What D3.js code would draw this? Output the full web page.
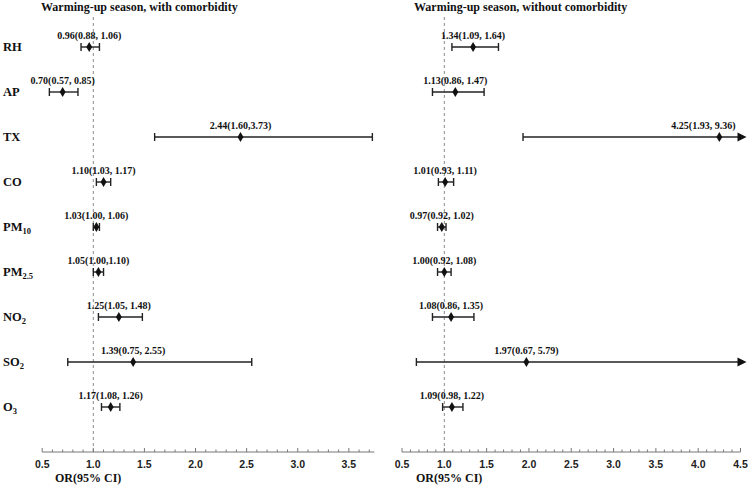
<!DOCTYPE html>
<html>
<head>
<meta charset="utf-8">
<script src="https://cdn.jsdelivr.net/npm/d3@7"></script>
<style>
  html, body { margin: 0; padding: 0; background: #fff; }
  svg { display: block; }
</style>
</head>
<body>
<svg id="chart" width="750" height="488"></svg>
<script>
// ---- data ----
const categories = ["RH", "AP", "TX", "CO", "PM10", "PM2.5", "NO2", "SO2", "O3"];

const orWith = [0.96, 0.70, 2.44, 1.10, 1.03, 1.05, 1.25, 1.39, 1.17];
const loWith = [0.88, 0.57, 1.60, 1.03, 1.00, 1.00, 1.05, 0.75, 1.08];
const hiWith = [1.06, 0.85, 3.73, 1.17, 1.06, 1.10, 1.48, 2.55, 1.26];
const labelsWith = ["0.96(0.88, 1.06)", "0.70(0.57, 0.85)", "2.44(1.60,3.73)", "1.10(1.03, 1.17)",
  "1.03(1.00, 1.06)", "1.05(1.00,1.10)", "1.25(1.05, 1.48)", "1.39(0.75, 2.55)", "1.17(1.08, 1.26)"];

const orWithout = [1.34, 1.13, 4.25, 1.01, 0.97, 1.00, 1.08, 1.97, 1.09];
const loWithout = [1.09, 0.86, 1.93, 0.93, 0.92, 0.92, 0.86, 0.67, 0.98];
const hiWithout = [1.64, 1.47, 9.36, 1.11, 1.02, 1.08, 1.35, 5.79, 1.22];
const labelsWithout = ["1.34(1.09, 1.64)", "1.13(0.86, 1.47)", "4.25(1.93, 9.36)", "1.01(0.93, 1.11)",
  "0.97(0.92, 1.02)", "1.00(0.92, 1.08)", "1.08(0.86, 1.35)", "1.97(0.67, 5.79)", "1.09(0.98, 1.22)"];

const ticksLeft = [0.5, 1.0, 1.5, 2.0, 2.5, 3.0, 3.5];
const ticksRight = [0.5, 1.0, 1.5, 2.0, 2.5, 3.0, 3.5, 4.0, 4.5];
const titles = ["Warming-up season, with comorbidity", "Warming-up season, without comorbidity"];
const axisTitle = "OR(95% CI)";

// ---- layout ----
const svg = d3.select("#chart");
const serif = "'Liberation Serif', 'Times New Roman', serif";
const sans = "'Liberation Sans', Arial, sans-serif";

const y = d3.scaleLinear().domain([-1, categories.length]).range([2, 452]);
const axisY = y(categories.length);

const panels = [
  { or: orWith, lo: loWith, hi: hiWith, labels: labelsWith, domain: [0.5, 3.75], range: [42.2, 374.4],
    ticks: ticksLeft, title: titles[0], titleX: 41, axisTitleX: 55 },
  { or: orWithout, lo: loWithout, hi: hiWithout, labels: labelsWithout, domain: [0.5, 4.5], range: [402, 740.5],
    ticks: ticksRight, title: titles[1], titleX: 414, axisTitleX: 416 }
];

// row labels
const rowLab = svg.append("g");
categories.forEach((c, i) => {
  const m = c.match(/^([A-Z]+)([0-9.]*)$/);
  const t = rowLab.append("text")
    .attr("x", 3).attr("y", y(i) + 4)
    .attr("font-family", serif).attr("font-weight", "bold").attr("font-size", 12.5)
    .attr("fill", "#111");
  t.append("tspan").text(m[1]);
  if (m[2]) {
    t.append("tspan").attr("font-size", 8.5).attr("dy", 3).text(m[2]);
  }
});

panels.forEach(p => {
  const x = d3.scaleLinear().domain(p.domain).range(p.range);
  const g = svg.append("g");
  const xmax = p.domain[1];

  // title
  g.append("text").attr("x", p.titleX).attr("y", 11)
    .attr("font-family", serif).attr("font-weight", "bold").attr("font-size", 12)
    .attr("fill", "#111").text(p.title);

  // reference dashed line
  g.append("line")
    .attr("x1", x(1)).attr("x2", x(1))
    .attr("y1", 17).attr("y2", axisY)
    .attr("stroke", "#8a8a8a").attr("stroke-width", 1).attr("stroke-dasharray", "3,3");

  // axis
  const minor = d3.range(p.domain[0], xmax + 1e-9, 0.1).map(v => Math.round(v * 10) / 10);
  g.append("line").attr("x1", x(p.domain[0])).attr("x2", x(xmax))
    .attr("y1", axisY).attr("y2", axisY).attr("stroke", "#777").attr("stroke-width", 1);
  g.selectAll(".minor").data(minor).join("line")
    .attr("x1", d => x(d)).attr("x2", d => x(d))
    .attr("y1", axisY).attr("y2", d => ticksRight.includes(d) ? axisY - 4 : axisY - 2.5)
    .attr("stroke", "#777").attr("stroke-width", 1);
  g.selectAll(".tl").data(p.ticks).join("text")
    .attr("x", d => x(d)).attr("y", axisY + 15.5)
    .attr("text-anchor", "middle")
    .attr("font-family", sans).attr("font-weight", "bold").attr("font-size", 10.5)
    .attr("fill", "#222")
    .text(d => d.toFixed(1));

  g.append("text").attr("x", p.axisTitleX).attr("y", axisY + 30)
    .attr("font-family", serif).attr("font-weight", "bold").attr("font-size", 12)
    .attr("fill", "#111").text(axisTitle);

  // error bars
  categories.forEach((c, i) => {
    const yy = y(i);
    const lo = p.lo[i], hi = p.hi[i];
    const clipped = hi > xmax;
    const x1 = x(lo), x2 = clipped ? x(xmax) - 2 : x(hi);
    g.append("line").attr("x1", x1).attr("x2", x2).attr("y1", yy).attr("y2", yy)
      .attr("stroke", "#222").attr("stroke-width", 1.4);
    g.append("line").attr("x1", x1).attr("x2", x1).attr("y1", yy - 4).attr("y2", yy + 4)
      .attr("stroke", "#222").attr("stroke-width", 1.4);
    if (clipped) {
      const tx = x(xmax);
      g.append("path")
        .attr("d", `M${tx - 3},${yy - 4.5}L${tx + 6},${yy}L${tx - 3},${yy + 4.5}Z`)
        .attr("fill", "#111");
    } else {
      g.append("line").attr("x1", x2).attr("x2", x2).attr("y1", yy - 4).attr("y2", yy + 4)
        .attr("stroke", "#222").attr("stroke-width", 1.4);
    }
    g.append("path")
      .attr("d", d3.symbol().type(d3.symbolDiamond).size(30)())
      .attr("transform", `translate(${x(p.or[i])},${yy})`)
      .attr("fill", "#111");

    const lab = g.append("text")
      .attr("x", x(p.or[i])).attr("y", yy - 8)
      .attr("text-anchor", "middle")
      .attr("font-family", serif).attr("font-weight", "bold").attr("font-size", 10)
      .attr("fill", "#111").text(p.labels[i]);
    const w = lab.node().getComputedTextLength();
    const limit = x(xmax) - 5;
    if (x(p.or[i]) + w / 2 > limit) lab.attr("x", limit - w / 2);
  });
});
</script>
</body>
</html>
